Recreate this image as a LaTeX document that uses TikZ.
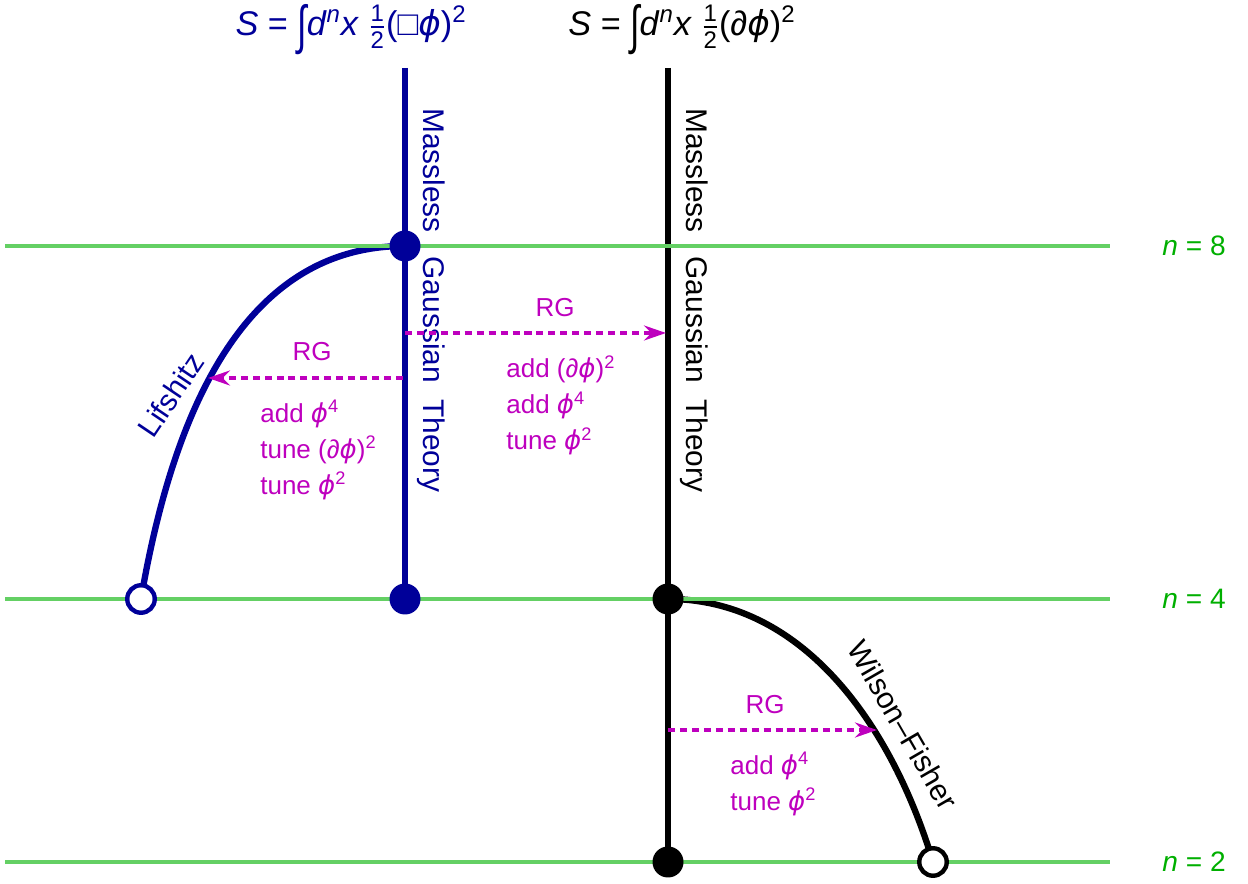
\documentclass[tikz,border=0pt]{standalone}
\usepackage{amsmath}
\usepackage{graphicx}
\usepackage{fontspec}
\setmainfont{Liberation Sans}
\newfontfamily\dvs{DejaVu Sans}
\usepackage{tikz}
\usetikzlibrary{arrows.meta,backgrounds}
\definecolor{gblue}{RGB}{0,0,153}
\definecolor{rgmag}{RGB}{190,0,190}
\definecolor{nline}{RGB}{100,208,100}
\definecolor{ntext}{RGB}{0,175,0}
\newcommand{\ph}{{\dvs\itshape ϕ}}
\newcommand{\half}{$\frac{\text{1}}{\text{2}}$}
\newcommand{\bigint}{\raisebox{-0.22em}{\scalebox{1}[1.55]{∫}}}
\tikzset{
  nlev/.style={nline,line width=2.3pt},                 % Linie n = const
  nlab/.style={text=ntext,font=\fontsize{16}{19}\selectfont},
  theory/.style={line width=3.6pt},
  fp/.style={circle,fill=#1,inner sep=0pt,minimum size=0.62cm},        % Fixpunkt
  fp/.default=black,
  ofp/.style={circle,draw=#1,fill=white,line width=2.5pt,inner sep=0pt,
              minimum size=0.55cm},                                  % offener Fixpunkt
  ofp/.default=black,
  rg/.style={rgmag,line width=2.3pt,dash pattern=on 4pt off 2.8pt,
             -{Stealth[length=4.4mm,width=3mm,inset=1.5mm]}},
  rglab/.style={text=rgmag,align=left,inner sep=0pt,
                font=\fontsize{14.8}{20.5}\selectfont},
  side/.style={inner sep=0pt,font=\fontsize{17}{20}\selectfont}
}

\begin{document}
\begin{tikzpicture}[x=0.02cm,y=-0.02cm,
  formula/.style={font=\fontsize{19.5}{22}\selectfont,inner sep=0pt,anchor=base}]
  \useasboundingbox (0,0) rectangle (1248,884);

  % Ebenen n = 8, 4, 2
  \draw[nlev] (5,246) -- (1110,246);
  \draw[nlev] (5,599) -- (1110,599);
  \draw[nlev] (5,862) -- (1110,862);
  \node[nlab] (n8) at (1194,246) {\textit{n} = 8};
  \node[nlab] (n4) at (1194,599) {\textit{n} = 4};
  \node[nlab] (n2) at (1194,862) {\textit{n} = 2};

  \node[formula,text=gblue] (sbox) at (351,36)
    {\textit{S} = \bigint\textit{d}\textsuperscript{\textit{n}}\textit{x} \half(□\ph)\textsuperscript{2}};
  \node[formula] (sdel) at (682,36)
    {\textit{S} = \bigint\textit{d}\textsuperscript{\textit{n}}\textit{x} \half(∂\ph)\textsuperscript{2}};

  \coordinate (btop) at (405,68);
  \coordinate (ktop) at (668,68);
  \node[fp=gblue] (b8) at (405,246) {};
  \node[fp=gblue] (b4) at (405,599) {};
  \node[ofp=gblue] (lif) at (141,599) {};
  \node[fp] (k4) at (668,599) {};
  \node[fp] (k2) at (668,862) {};
  \node[ofp] (wf) at (933,862) {};

  \begin{scope}[on background layer]
  \draw[theory,gblue] (btop) -- (b4.center);
  \draw[theory] (ktop) -- (k2.center);
  \draw[theory,gblue] (b8.center) .. controls (250,246) and (175,400) .. (lif.center);
  \draw[theory] (k4.center) .. controls (800,599) and (890,720) .. (wf.center);
  \end{scope}

  \node[side,text=gblue,rotate=-90,anchor=base west] (gbl) at (423,108)
    {Massless\hspace{0.8em}Gaussian\hspace{0.55em}Theory};
  \node[side,rotate=-90,anchor=base west] (gbk) at (686,108)
    {Massless\hspace{0.8em}Gaussian\hspace{0.55em}Theory};
  \node[side,text=gblue,rotate=56] (llab) at (171,395) {Lifshitz};
  \node[side,rotate=-60] (wlab) at (903,725) {Wilson–Fisher};

  % RG-Fluesse
  \coordinate (r1a) at (405,333);
  \coordinate (r1b) at (666,333);
  \coordinate (r2a) at (403,378);
  \coordinate (r2b) at (208,378);
  \coordinate (r3a) at (668,730);
  \coordinate (r3b) at (877,730);
  \draw[rg] (r1a) -- (r1b);
  \draw[rg] (r2a) -- (r2b);
  \draw[rg] (r3a) -- (r3b);
  \node[rglab] (rg1) at (555,308) {RG};
  \node[rglab] (rg2) at (312,352) {RG};
  \node[rglab] (rg3) at (765,705) {RG};
  \node[rglab,anchor=west] (t1) at (506,405)
    {add (∂\ph)\textsuperscript{2}\\add \ph\textsuperscript{4}\\tune \ph\textsuperscript{2}};
  \node[rglab,anchor=west] (t2) at (260,450)
    {add \ph\textsuperscript{4}\\tune (∂\ph)\textsuperscript{2}\\tune \ph\textsuperscript{2}};
  \node[rglab,anchor=west] (t3) at (730,784)
    {add \ph\textsuperscript{4}\\tune \ph\textsuperscript{2}};
\end{tikzpicture}
\end{document}
